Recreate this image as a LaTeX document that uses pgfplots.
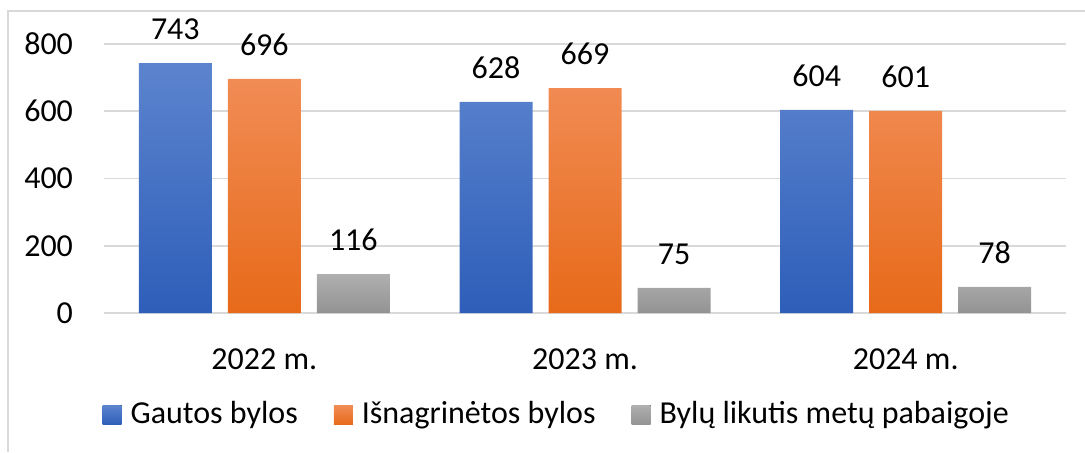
\documentclass[border=0pt]{standalone}
\usepackage{fontspec}
\setmainfont{Carlito}
\usepackage{pgfplots}
\pgfplotsset{compat=1.18}

\definecolor{gridc}{HTML}{D9D9D9}
\definecolor{blueT}{HTML}{5C84CE}
\definecolor{blueB}{HTML}{2E5EB9}
\definecolor{orangeT}{HTML}{F18C55}
\definecolor{orangeB}{HTML}{E76A19}
\definecolor{grayT}{HTML}{AFAFAF}
\definecolor{grayB}{HTML}{939393}

\begin{document}
\fontsize{16}{19}\selectfont
\begin{tikzpicture}
\useasboundingbox (0pt,0pt) rectangle (542.5pt,226pt);
\draw[gridc, line width=0.8pt] (4pt,0pt) -- (4pt,220.5pt) -- (542.5pt,220.5pt);
\begin{axis}[
  at={(52pt,69.5pt)}, anchor=south west,
  scale only axis, width=481pt, height=134.5pt,
  xmin=-0.5, xmax=2.5, ymin=0, ymax=800,
  ybar=8pt, bar width=36.5pt,
  axis line style={draw=none}, tick style={draw=none},
  ymajorgrids, grid style={gridc, line width=0.8pt},
  ytick={0,200,400,600,800},
  xtick={0,1,2}, xticklabels={2022 m., 2023 m., 2024 m.},
  /pgf/number format/assume math mode=true,
  yticklabel style={xshift=-10pt},
  xticklabel style={yshift=-8pt},
  ticklabel style={font=\fontsize{16}{19}\selectfont},
  clip=false,
  nodes near coords,
  every node near coord/.append style={font=\fontsize{16}{19}\selectfont, black, yshift=6pt},
  legend style={at={(0.4716,-0.379)}, anchor=center, draw=none, fill=none,
    legend columns=3, font=\fontsize{16}{19}\selectfont,
    /tikz/every even column/.append style={column sep=16pt}},
  legend image code/.code={\fill[#1] (0pt,-4.75pt) rectangle (9.5pt,4.75pt);
    \path (0pt,0pt) -- (12pt,0pt);},
]
\addplot[draw=none, top color=blueT, bottom color=blueB] coordinates {(0,743) (1,628) (2,604)};
\addplot[draw=none, top color=orangeT, bottom color=orangeB] coordinates {(0,696) (1,669) (2,601)};
\addplot[draw=none, top color=grayT, bottom color=grayB] coordinates {(0,116) (1,75) (2,78)};
\legend{Gautos bylos, Išnagrinėtos bylos, Bylų likutis metų pabaigoje}
\end{axis}
\end{tikzpicture}
\end{document}
